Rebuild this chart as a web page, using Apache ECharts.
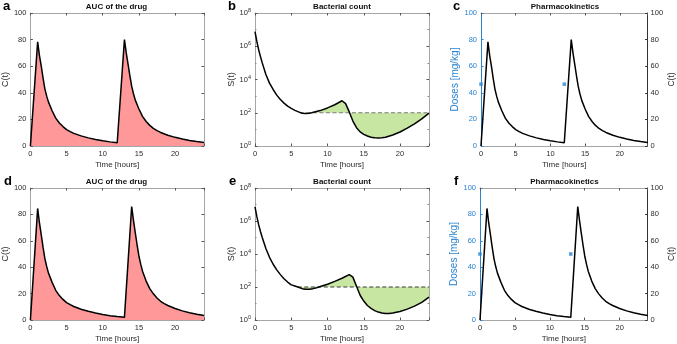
<!DOCTYPE html>
<html><head><meta charset="utf-8">
<script src="https://cdn.jsdelivr.net/npm/echarts@6/dist/echarts.min.js"></script>
<style>html,body{margin:0;padding:0;background:#fff}#c{width:677px;height:344px}</style>
</head><body><div id="c"></div>
<script>
// ---- data ----
const xTickLabels = [0, 5, 10, 15, 20];
// panel a / c : concentration C(t), doses at 0 h and 12 h
const tA = [0,1,1.25,1.5,1.75,2,2.25,2.5,3,3.5,4,4.5,5,5.5,6,7,8,9,10,11,12,13,13.25,13.5,13.75,14,14.25,14.5,15,15.5,16,16.5,17,17.5,18,19,20,21,22,23,24];
const cA = [0,78.3,68,60,51,43,37.5,33,26.5,21,17.3,14.6,12.3,10.8,9.5,7.6,6.1,4.9,3.9,3.1,2.4,80,70,61.5,53,45,39.3,34.5,27.8,22.3,18.4,15.5,13.2,11.6,10.2,8.1,6.5,5.3,4.2,3.3,2.6];
// panel d / f : concentration C(t), doses at 0 h and 13 h
const tD = [0,1,1.25,1.5,1.75,2,2.25,2.5,3,3.5,4,4.5,5,5.5,6,7,8,9,10,11,12,13,14,14.25,14.5,14.75,15,15.25,15.5,16,16.5,17,17.5,18,18.5,19,20,21,22,23,24];
const cD = [0,84.5,73.5,64.5,55,46.5,40.5,35.5,28.5,22.5,18.5,15.6,13.2,11.6,10.2,8.2,6.6,5.3,4.2,3.3,2.6,2.0,86,75.5,66,57,48.5,42.3,37,29.5,23.8,19.8,16.7,14.2,12.4,11,8.7,6.9,5.5,4.3,3.4];
// panel b : log10 S(t)
const tB = [0,0.25,0.5,0.75,1,1.5,2,2.5,3,3.5,4,4.5,5,5.5,6,6.2,6.5,7,7.5,7.8,8,9,10,11,12,12.2,12.5,13,13.5,14,14.5,15,15.5,16,16.5,17,17.5,18,19,20,21,22,23,24];
const logSB = [6.88,6.3,5.8,5.38,5.0,4.3,3.78,3.4,3.06,2.8,2.58,2.4,2.26,2.14,2.05,2.0,1.97,1.95,1.97,2.0,2.02,2.13,2.29,2.48,2.72,2.77,2.55,2.05,1.5,1.1,0.85,0.7,0.6,0.53,0.49,0.48,0.49,0.53,0.66,0.84,1.07,1.33,1.63,1.98];
// panel e : log10 S(t)
const tE = [0,0.25,0.5,0.75,1,1.5,2,2.5,3,3.5,4,4.5,5,5.5,5.9,6.5,7,7.5,8,8.5,8.8,9,10,11,12,13,13.2,13.5,14,14.5,15,15.5,16,16.5,17,17.5,18,18.5,19,20,21,22,23,24];
const logSE = [6.85,6.28,5.78,5.36,5.0,4.33,3.8,3.38,3.04,2.75,2.5,2.3,2.13,2.06,2.0,1.9,1.86,1.86,1.9,1.96,2.0,2.02,2.17,2.34,2.53,2.75,2.8,2.6,2.05,1.5,1.15,0.88,0.7,0.57,0.48,0.42,0.39,0.39,0.42,0.52,0.66,0.84,1.07,1.38];
const thresholdLog = 2;           // 10^2
const fillStartB = 6.2, fillStartE = 5.9;
// doses
const doseTimesC = [0, 12], dosesC = [46.5, 46.5];
const doseTimesF = [0, 13], dosesF = [50, 50];

// ---- styling ----
const FF = 'Liberation Sans, Arial, sans-serif';
const GRAY = '#a6a6a6', TXT = '#2b2b2b', BLUE = '#2a83d0';
const RED_FILL = '#ff9999', GREEN_FILL = '#c6e6a2';
const TICK_FS = 7.5;
const grids = [
  {left:29, top:13, width:175, height:133},
  {left:255, top:13, width:174, height:133},
  {left:481, top:13, width:168, height:133},
  {left:29, top:188, width:175, height:133},
  {left:255, top:188, width:174, height:133},
  {left:480, top:188, width:169, height:133}
];
const titles = ['AUC of the drug','Bacterial count','Pharmacokinetics','AUC of the drug','Bacterial count','Pharmacokinetics'];
const letters = ['a','b','c','d','e','f'];
const letterX = [3, 228, 453, 4, 229, 454];

const zip = (a, b) => a.map((v, i) => [v, b[i]]);
const tick = (c) => ({show:true, inside:true, length:2.5, lineStyle:{color:c||'#555', width:1}});

const xAxis = [], yAxis = [], series = [], title = [], graphic = [];
grids.forEach((g, gi) => {
  const frameC = GRAY;
  xAxis.push({gridIndex:gi, type:'value', min:0, max:24, interval:5, position:'bottom',
    name:'Time [hours]', nameLocation:'middle', nameGap:15,
    nameTextStyle:{fontSize:8, color:TXT, fontFamily:FF},
    axisLine:{show:true, onZero:false, lineStyle:{color:frameC, width:1}}, axisTick:tick(),
    axisLabel:{fontSize:TICK_FS, color:TXT, fontFamily:FF, margin:4, formatter:v => xTickLabels.includes(v) ? String(v) : ''},
    splitLine:{show:false}});
  xAxis.push({gridIndex:gi, type:'value', min:0, max:24, interval:5, position:'top',
    axisLine:{show:true, onZero:false, lineStyle:{color:frameC, width:1}}, axisTick:tick(),
    axisLabel:{show:false}, splitLine:{show:false}});
  const kind = gi % 3;
  if (kind === 0) {
    yAxis.push({gridIndex:gi, type:'value', min:0, max:100, interval:20, position:'left',
      name:'C(t)', nameLocation:'middle', nameGap:17, nameTextStyle:{fontSize:9, color:TXT, fontFamily:FF},
      axisLine:{show:true, onZero:false, lineStyle:{color:frameC}}, axisTick:tick(),
      axisLabel:{fontSize:TICK_FS, color:TXT, fontFamily:FF, margin:4}, splitLine:{show:false}});
    yAxis.push({gridIndex:gi, type:'value', min:0, max:100, interval:20, position:'right',
      axisLine:{show:true, onZero:false, lineStyle:{color:frameC}}, axisTick:tick(),
      axisLabel:{show:false}, splitLine:{show:false}});
  } else if (kind === 1) {
    const supFmt = v => '{b|10}{s|' + v + '}';
    const rich = {b:{fontSize:TICK_FS, color:TXT, fontFamily:FF}, s:{fontSize:5.5, color:TXT, fontFamily:FF, padding:[0,0,5,0]}};
    yAxis.push({gridIndex:gi, type:'value', min:0, max:8, interval:2, position:'left',
      name:'S(t)', nameLocation:'middle', nameGap:17, nameTextStyle:{fontSize:9, color:TXT, fontFamily:FF},
      axisLine:{show:true, onZero:false, lineStyle:{color:frameC}}, axisTick:tick(),
      minorTick:{show:true, splitNumber:2, length:1.5, lineStyle:{color:'#888'}},
      axisLabel:{margin:4, formatter:supFmt, rich:rich}, splitLine:{show:false}});
    yAxis.push({gridIndex:gi, type:'value', min:0, max:8, interval:2, position:'right',
      axisLine:{show:true, onZero:false, lineStyle:{color:frameC}}, axisTick:tick(),
      minorTick:{show:true, splitNumber:2, length:1.5, lineStyle:{color:'#888'}},
      axisLabel:{show:false}, splitLine:{show:false}});
  } else {
    yAxis.push({gridIndex:gi, type:'value', min:0, max:100, interval:20, position:'left',
      name:'Doses [mg/kg]', nameLocation:'middle', nameGap:17, nameTextStyle:{fontSize:10, color:BLUE, fontFamily:FF},
      axisLine:{show:true, onZero:false, lineStyle:{color:BLUE}}, axisTick:tick(BLUE),
      axisLabel:{fontSize:TICK_FS, color:BLUE, fontFamily:FF, margin:4}, splitLine:{show:false}});
    yAxis.push({gridIndex:gi, type:'value', min:0, max:100, interval:20, position:'right',
      name:'C(t)', nameLocation:'middle', nameGap:19, nameTextStyle:{fontSize:8.5, color:TXT, fontFamily:FF},
      axisLine:{show:true, onZero:false, lineStyle:{color:'#333'}}, axisTick:tick('#333'),
      axisLabel:{fontSize:TICK_FS, color:TXT, fontFamily:FF, margin:3}, splitLine:{show:false}});
  }
  title.push({text:titles[gi], left:g.left + g.width/2, textAlign:'center', top:g.top - 10, padding:0,
    textStyle:{fontSize:8, fontWeight:'bold', color:'#111', fontFamily:FF}});
  graphic.push({type:'text', left:letterX[gi], top:g.top - 13, style:{text:letters[gi], font:'bold 13px ' + FF, fill:'#000'}});
});

const xi = gi => 2*gi, yiL = gi => 2*gi, yiR = gi => 2*gi + 1;
const blackLine = {type:'line', showSymbol:false, symbol:'none', lineStyle:{color:'#000', width:1.5}, z:5};

function aucSeries(gi, t, c) {
  series.push(Object.assign({}, blackLine, {xAxisIndex:xi(gi), yAxisIndex:yiL(gi), data:zip(t, c),
    areaStyle:{color:RED_FILL, opacity:1}}));
}
function bactSeries(gi, t, s, start, dashC) {
  const fillData = zip(t, s).filter(p => p[0] >= start);
  series.push({type:'line', xAxisIndex:xi(gi), yAxisIndex:yiL(gi), data:fillData, showSymbol:false, symbol:'none',
    lineStyle:{width:0, opacity:0}, areaStyle:{color:GREEN_FILL, opacity:1, origin:thresholdLog}, z:2});
  series.push({type:'line', xAxisIndex:xi(gi), yAxisIndex:yiL(gi), data:[[start, thresholdLog],[24, thresholdLog]],
    showSymbol:false, symbol:'none', lineStyle:{color:dashC, width:1.2, type:[4,2.5]}, z:4});
  series.push(Object.assign({}, blackLine, {xAxisIndex:xi(gi), yAxisIndex:yiL(gi), data:zip(t, s)}));
}
function pkSeries(gi, t, c, dt, d) {
  series.push(Object.assign({}, blackLine, {xAxisIndex:xi(gi), yAxisIndex:yiR(gi), data:zip(t, c)}));
  series.push({type:'scatter', xAxisIndex:xi(gi), yAxisIndex:yiL(gi), data:zip(dt, d), symbol:'rect', symbolSize:3.5,
    itemStyle:{color:BLUE}, z:6});
}
aucSeries(0, tA, cA);
bactSeries(1, tB, logSB, fillStartB, '#7a7a7a');
pkSeries(2, tA, cA, doseTimesC, dosesC);
aucSeries(3, tD, cD);
bactSeries(4, tE, logSE, fillStartE, '#3a3a3a');
pkSeries(5, tD, cD, doseTimesF, dosesF);

const chart = echarts.init(document.getElementById('c'), null, {renderer:'canvas'});
chart.setOption({animation:false, backgroundColor:'#fff', grid:grids.map(g => Object.assign({containLabel:false}, g)),
  xAxis, yAxis, series, title, graphic});
</script></body></html>
